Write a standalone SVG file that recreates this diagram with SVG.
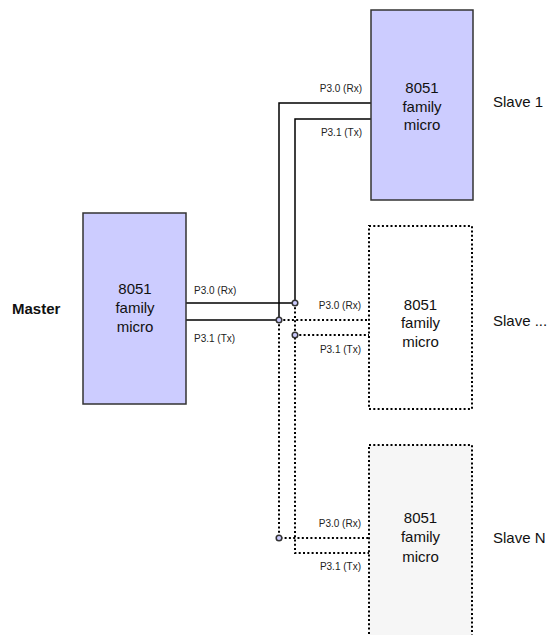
<svg xmlns="http://www.w3.org/2000/svg" width="550" height="635" viewBox="0 0 550 635">
<style>
.box{fill:#ccccff;stroke:#333;stroke-width:1.5}
.dbox{stroke:#000;stroke-width:2;stroke-dasharray:2 2.3}
.bt{font-family:"Liberation Sans",Arial,sans-serif;font-size:15px;fill:#111;text-anchor:middle}
.name{font-family:"Liberation Sans",Arial,sans-serif;font-size:15px;fill:#111}
.lbl{font-family:"Liberation Sans",Arial,sans-serif;font-size:10px;fill:#222}
.w{fill:none;stroke:#000;stroke-width:1.5}
.d{fill:none;stroke:#000;stroke-width:2;stroke-dasharray:2 2.3}
.j{fill:#ccccff;stroke:#333;stroke-width:1.5}
</style>
<rect width="550" height="635" fill="#fff"/>
<g id="connectors">
<polyline class="w" points="371,103 279,103 279,320 186,320"/>
<polyline class="w" points="371,119 295,119 295,303 186,303"/>
<line class="d" x1="279" y1="320" x2="369" y2="320"/>
<line class="d" x1="295" y1="335" x2="369" y2="335"/>
<polyline class="d" points="279,320 279,538 369,538"/>
<polyline class="d" points="295,303 295,553 369,553"/>
<circle class="j" cx="295" cy="303" r="2.8"/>
<circle class="j" cx="279" cy="320" r="2.8"/>
<circle class="j" cx="295" cy="335" r="2.8"/>
<circle class="j" cx="279" cy="538" r="2.8"/>
<text class="lbl" x="194" y="294">P3.0 (Rx)</text>
<text class="lbl" x="194" y="341.5">P3.1 (Tx)</text>
<text class="lbl" x="362" y="92" text-anchor="end">P3.0 (Rx)</text>
<text class="lbl" x="362" y="135.5" text-anchor="end">P3.1 (Tx)</text>
<text class="lbl" x="361" y="309" text-anchor="end">P3.0 (Rx)</text>
<text class="lbl" x="361" y="352.5" text-anchor="end">P3.1 (Tx)</text>
<text class="lbl" x="361" y="527" text-anchor="end">P3.0 (Rx)</text>
<text class="lbl" x="361" y="570" text-anchor="end">P3.1 (Tx)</text>
</g>
<g id="master">
<rect class="box" x="83" y="213" width="103" height="191"/>
<text class="bt" x="135" y="293.5">8051</text>
<text class="bt" x="135" y="312.5">family</text>
<text class="bt" x="135" y="331.5">micro</text>
<text class="name" x="12" y="314" font-weight="bold">Master</text>
</g>
<g id="slave1">
<rect class="box" x="371" y="10" width="102" height="190"/>
<text class="bt" x="422" y="92.5">8051</text>
<text class="bt" x="422" y="111.5">family</text>
<text class="bt" x="422" y="130">micro</text>
<text class="name" x="493" y="107">Slave 1</text>
</g>
<g id="slave2">
<rect class="dbox" x="369" y="226" width="103" height="183" fill="#fff"/>
<text class="bt" x="420.5" y="309.5">8051</text>
<text class="bt" x="420.5" y="328">family</text>
<text class="bt" x="420.5" y="346.5">micro</text>
<text class="name" x="493" y="326">Slave ...</text>
</g>
<g id="slaveN">
<rect class="dbox" x="369" y="445" width="103" height="200" fill="#f6f6f6"/>
<text class="bt" x="420.5" y="523">8051</text>
<text class="bt" x="420.5" y="542">family</text>
<text class="bt" x="420.5" y="561.5">micro</text>
<text class="name" x="493" y="543">Slave N</text>
</g>
</svg>
